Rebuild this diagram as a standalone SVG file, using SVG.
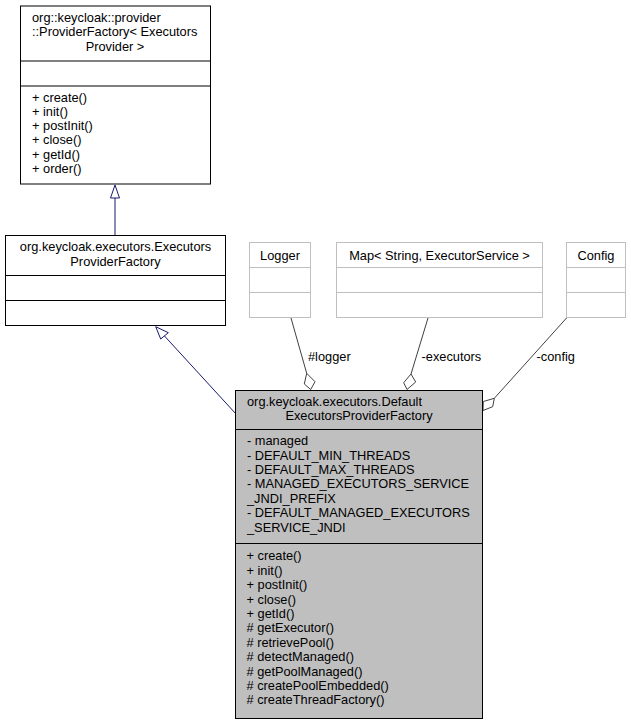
<svg xmlns="http://www.w3.org/2000/svg" width="631" height="721" viewBox="0 0 631 721">
<style>
text{font-family:"Liberation Sans",Arial,sans-serif;font-size:12.8px;fill:#000}
.c{text-anchor:middle}
.box{fill:#fff;stroke:#000;stroke-width:1}
.gbox{fill:#fff;stroke:#bfbfbf;stroke-width:1}
.main{fill:#bfbfbf;stroke:#000;stroke-width:1}
.inh{stroke:#191970;fill:none;stroke-width:1}
.tri{stroke:#191970;fill:#fff;stroke-width:1}
.asc{stroke:#404040;fill:none;stroke-width:1}
.dia{stroke:#404040;fill:#fff;stroke-width:1}
</style>
<rect width="631" height="721" fill="#fff"/>
<g id="connectors">
<line class="inh" x1="115" y1="198" x2="115" y2="235.5"/>
<polygon class="tri" points="115,185 110.5,198 119.5,198"/>
<line class="inh" x1="164.5" y1="336" x2="236" y2="414"/>
<polygon class="tri" points="155.7,326.7 160.7,339 168.3,332.7"/>
<line class="asc" x1="291" y1="318" x2="306.7" y2="373.3"/>
<polygon class="dia" points="306.7,373.3 315,381.7 310.7,389.5 304.3,384"/>
<text x="308" y="360.5">#logger</text>
<line class="asc" x1="428" y1="318" x2="411" y2="374"/>
<polygon class="dia" points="411,374 415.7,382 407,389.5 403.7,382.7"/>
<text x="421.5" y="360.5">-executors</text>
<line class="asc" x1="567" y1="317.5" x2="494.3" y2="398.3"/>
<polygon class="dia" points="494.3,398.3 483.3,401.5 483,410.5 492.7,406.7"/>
<text x="536.5" y="360.5">-config</text>
</g>
<g id="ProviderFactory">
<rect class="box" x="20.5" y="6" width="190" height="178"/>
<line x1="20.5" y1="61" x2="210.5" y2="61" stroke="#000"/>
<line x1="20.5" y1="86" x2="210.5" y2="86" stroke="#000"/>
<text x="32" y="22">org::keycloak::provider</text>
<text x="32" y="36.3">::ProviderFactory&lt; Executors</text>
<text class="c" x="115" y="50.6">Provider &gt;</text>
<text x="32" y="101.5">+ create()</text>
<text x="32" y="115.8">+ init()</text>
<text x="32" y="130.1">+ postInit()</text>
<text x="32" y="144.4">+ close()</text>
<text x="32" y="158.7">+ getId()</text>
<text x="32" y="173">+ order()</text>
</g>
<g id="ExecutorsProviderFactory">
<rect class="box" x="5.5" y="235.5" width="220" height="90"/>
<line x1="5.5" y1="275.5" x2="225.5" y2="275.5" stroke="#000"/>
<line x1="5.5" y1="300.5" x2="225.5" y2="300.5" stroke="#000"/>
<text class="c" x="115.5" y="251">org.keycloak.executors.Executors</text>
<text class="c" x="115.5" y="265.5">ProviderFactory</text>
</g>
<g id="Logger">
<rect class="gbox" x="249.5" y="242.5" width="61" height="75"/>
<line x1="249.5" y1="267.5" x2="310.5" y2="267.5" stroke="#bfbfbf"/>
<line x1="249.5" y1="292.5" x2="310.5" y2="292.5" stroke="#bfbfbf"/>
<text class="c" x="280" y="259.5">Logger</text>
</g>
<g id="Map">
<rect class="gbox" x="336.5" y="242.5" width="206" height="75"/>
<line x1="336.5" y1="267.5" x2="542.5" y2="267.5" stroke="#bfbfbf"/>
<line x1="336.5" y1="292.5" x2="542.5" y2="292.5" stroke="#bfbfbf"/>
<text class="c" x="439.5" y="259.5">Map&lt; String, ExecutorService &gt;</text>
</g>
<g id="Config">
<rect class="gbox" x="566.5" y="242.5" width="59" height="75"/>
<line x1="566.5" y1="267.5" x2="625.5" y2="267.5" stroke="#bfbfbf"/>
<line x1="566.5" y1="292.5" x2="625.5" y2="292.5" stroke="#bfbfbf"/>
<text class="c" x="596" y="259.5">Config</text>
</g>
<g id="DefaultExecutorsProviderFactory">
<rect class="main" x="235.5" y="390.5" width="247" height="328"/>
<line x1="235.5" y1="429.5" x2="482.5" y2="429.5" stroke="#000"/>
<line x1="235.5" y1="543.5" x2="482.5" y2="543.5" stroke="#000"/>
<text x="247" y="405.7">org.keycloak.executors.Default</text>
<text class="c" x="359" y="420.2">ExecutorsProviderFactory</text>
<text x="247" y="445.2">- managed</text>
<text x="247" y="459.6">- DEFAULT_MIN_THREADS</text>
<text x="247" y="474">- DEFAULT_MAX_THREADS</text>
<text x="247" y="488.4">- MANAGED_EXECUTORS_SERVICE</text>
<text x="247" y="502.8">_JNDI_PREFIX</text>
<text x="247" y="517.2">- DEFAULT_MANAGED_EXECUTORS</text>
<text x="247" y="531.6">_SERVICE_JNDI</text>
<text x="246.5" y="560.4">+ create()</text>
<text x="246.5" y="574.8">+ init()</text>
<text x="246.5" y="589.2">+ postInit()</text>
<text x="246.5" y="603.6">+ close()</text>
<text x="246.5" y="618">+ getId()</text>
<text x="246.5" y="632.4"># getExecutor()</text>
<text x="246.5" y="646.8"># retrievePool()</text>
<text x="246.5" y="661.2"># detectManaged()</text>
<text x="246.5" y="675.6"># getPoolManaged()</text>
<text x="246.5" y="690"># createPoolEmbedded()</text>
<text x="246.5" y="704.4"># createThreadFactory()</text>
</g>
</svg>
